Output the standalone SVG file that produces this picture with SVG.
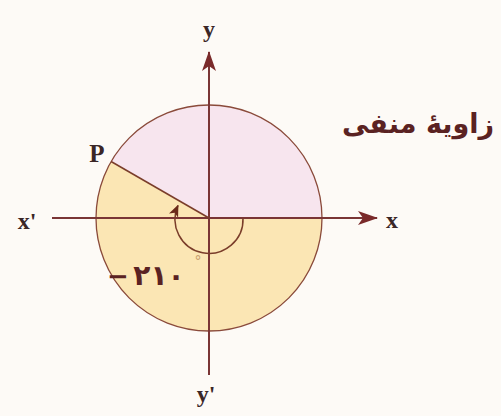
<svg xmlns="http://www.w3.org/2000/svg" width="501" height="416" viewBox="0 0 501 416">
<defs>
<style>
.ax{stroke:#7a3535;stroke-width:2;fill:none}
.thin{stroke:#7a3d2a;stroke-width:1.5;fill:none}
.lbl{font-family:"Liberation Serif",serif;font-weight:bold;fill:#3a2626}
.fa{font-family:"DejaVu Sans",sans-serif;fill:#5a2222}
</style>
<marker id="arr" viewBox="0 0 20 14" refX="19" refY="7" markerWidth="20" markerHeight="14" markerUnits="userSpaceOnUse" orient="auto">
<path d="M0,0 L20,7 L0,14 L5,7 Z" fill="#7a2a2a"/>
</marker>
<marker id="arr2" viewBox="0 0 12 10" refX="11" refY="5" markerWidth="12" markerHeight="10" markerUnits="userSpaceOnUse" orient="auto">
<path d="M0,0 L12,5 L0,10 L3,5 Z" fill="#6a2a1a"/>
</marker>
</defs>
<rect x="0" y="0" width="501" height="416" fill="#fdfaf6"/>
<g id="regions">
<path d="M209,218 L322,218 A113,113 0 0 0 111.1,161.5 Z" fill="#f7e5ee"/>
<path d="M209,218 L111.1,161.5 A113,113 0 1 0 322,218 Z" fill="#fbe6b4"/>
<circle cx="209" cy="218" r="113" fill="none" stroke="#8a4a3a" stroke-width="1.3"/>
</g>
<g id="connectors">
<line x1="52" y1="218" x2="377" y2="218" class="ax" marker-end="url(#arr)"/>
<line x1="209" y1="375" x2="209" y2="52" class="ax" marker-end="url(#arr)"/>
<line x1="111.1" y1="161.5" x2="209" y2="218" class="thin" stroke-width="2"/>
<path d="M243,218 A34,34 0 1 1 178,205.5" class="thin" marker-end="url(#arr2)"/>
</g>
<g id="labels">
<text x="209" y="37" class="lbl" font-size="24" text-anchor="middle">y</text>
<text x="392" y="228" class="lbl" font-size="24" text-anchor="middle">x</text>
<text x="27" y="229" class="lbl" font-size="24" text-anchor="middle">x'</text>
<text x="206" y="402" class="lbl" font-size="24" text-anchor="middle">y'</text>
<text x="97" y="162" class="lbl" font-size="25" text-anchor="middle">P</text>
<text x="118" y="285" class="fa" font-size="26" font-weight="bold" text-anchor="middle" fill="#4a2a10">−</text>
<text x="159" y="285" class="fa" font-size="28" font-weight="bold" text-anchor="middle" fill="#4a2a10">۲۱۰</text>
<text x="198" y="266" font-family="DejaVu Sans,sans-serif" font-size="14" fill="#c8a070" text-anchor="middle">°</text>
<text x="418" y="133" class="fa" font-size="27" font-weight="bold" text-anchor="middle">زاویهٔ منفی</text>
</g>
</svg>
